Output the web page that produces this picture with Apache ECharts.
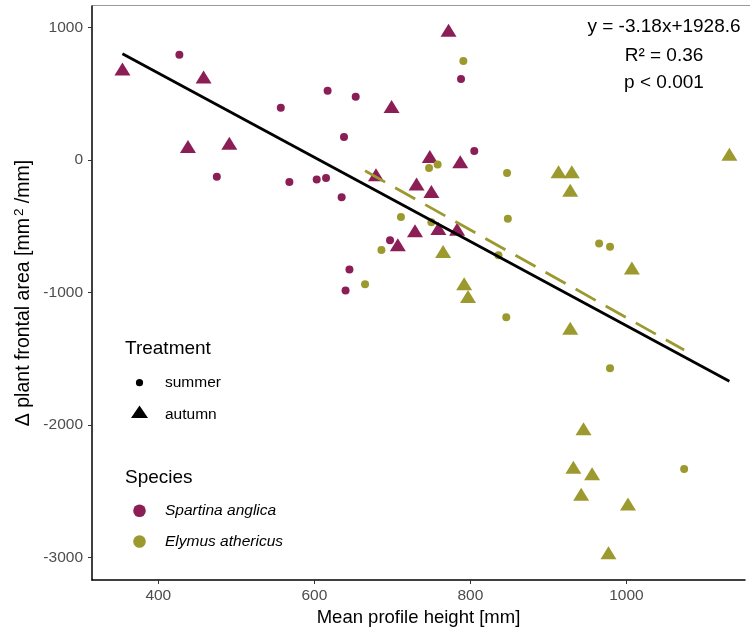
<!DOCTYPE html>
<html>
<head>
<meta charset="utf-8">
<script src="https://cdn.jsdelivr.net/npm/echarts@6/dist/echarts.min.js"></script>
<style>
html,body{margin:0;padding:0;background:#fff;}
#chart{width:750px;height:633px;}
</style>
</head>
<body>
<div id="chart"></div>
<script>
// Data: [mean profile height (mm), delta plant frontal area (mm2/mm)]
var spartinaSummer = [[427,796],[475,-126],[557,395],[617,524],[653,478],[638,174],[568,-166],[603,-147],[615,-136],[635,-280],[697,-605],[645,-827],[640,-985],[788,612],[805,68]];
var spartinaAutumn = [[354,688],[458,627],[438,103],[491,128],[699,405],[679,-111],[731,-180],[729,-533],[707,-640],[772,980],[748,27],[787,-13],[750,-237],[759,-517],[783,-522]];
var elymusSummer = [[711,-429],[686,-680],[665,-937],[791,748],[747,-60],[758,-33],[847,-98],[848,-444],[750,-469],[836,-718],[965,-630],[979,-655],[846,-1187],[979,-1572],[1074,-2333]];
var elymusAutumn = [[913,-88],[930,-88],[928,-227],[1132,45],[765,-691],[1007,-816],[792,-935],[797,-1031],[928,-1270],[945,-2029],[932,-2320],[956,-2369],[942,-2524],[1002,-2598],[977,-2966]];

// Fits: slope, intercept, x-range
var overallFit = {slope: -3.18, intercept: 1928.6, from: 354, to: 1132};
var elymusFit = {slope: -3.31, intercept: 2120, from: 665, to: 1074};

var xTicks = [400, 600, 800, 1000];
var yTicks = [-3000, -2000, -1000, 0, 1000];
var annotationLines = ['y = -3.18x+1928.6', 'R\u00b2 = 0.36', 'p < 0.001'];

var colSpartina = '#8C1E56';
var colElymus = '#9C992E';
var FONT = '"Liberation Sans", Arial, sans-serif';

function fitLine(f) {
  return [[f.from, f.slope * f.from + f.intercept], [f.to, f.slope * f.to + f.intercept]];
}
function plain(v) { return String(v); }

var chart = echarts.init(document.getElementById('chart'), null, {renderer: 'canvas'});

var circleSize = 8;
var triSize = [16, 13];

var option = {
  animation: false,
  backgroundColor: '#fff',
  grid: {left: 92, right: 5, top: 6, bottom: 53, containLabel: false},
  xAxis: {
    type: 'value', min: 315, max: 1152,
    name: 'Mean profile height [mm]', nameLocation: 'middle', nameGap: 28,
    nameTextStyle: {fontFamily: FONT, fontSize: 18.5, color: '#000'},
    axisLine: {show: true, onZero: false, lineStyle: {color: '#000', width: 1.5}},
    axisTick: {show: true, length: 4, lineStyle: {color: '#333', width: 1}, customValues: xTicks},
    axisLabel: {fontFamily: FONT, fontSize: 15.5, color: '#4D4D4D', margin: 8, customValues: xTicks, formatter: plain},
    splitLine: {show: false}
  },
  yAxis: {
    type: 'value', min: -3172, max: 1164,
    name: '{a|\u0394 plant frontal area [mm}{s|2}{a| /mm]}', nameLocation: 'middle', nameGap: 56, nameRotate: 90,
    nameMoveOverlap: false,
    nameTextStyle: {
      fontFamily: FONT, fontSize: 19.5, color: '#000',
      rich: {
        a: {fontFamily: FONT, fontSize: 19.5, color: '#000'},
        s: {fontFamily: FONT, fontSize: 13.5, color: '#000', verticalAlign: 'top', padding: [0, 0, 10, 2]}
      }
    },
    axisLine: {show: true, onZero: false, lineStyle: {color: '#000', width: 1.5}},
    axisTick: {show: true, length: 4, lineStyle: {color: '#333', width: 1}, customValues: yTicks},
    axisLabel: {fontFamily: FONT, fontSize: 15.5, color: '#4D4D4D', margin: 9, customValues: yTicks, formatter: plain},
    splitLine: {show: false}
  },
  series: [
    {name: 'Spartina anglica summer', type: 'scatter', data: spartinaSummer, symbol: 'circle', symbolSize: circleSize, itemStyle: {color: colSpartina, opacity: 1}, z: 3},
    {name: 'Spartina anglica autumn', type: 'scatter', data: spartinaAutumn, symbol: 'triangle', symbolSize: triSize, itemStyle: {color: colSpartina, opacity: 1}, z: 3},
    {name: 'Elymus athericus summer', type: 'scatter', data: elymusSummer, symbol: 'circle', symbolSize: circleSize, itemStyle: {color: colElymus, opacity: 1}, z: 3},
    {name: 'Elymus athericus autumn', type: 'scatter', data: elymusAutumn, symbol: 'triangle', symbolSize: triSize, itemStyle: {color: colElymus, opacity: 1}, z: 3},
    {name: 'Overall fit', type: 'line', data: fitLine(overallFit), showSymbol: false, symbol: 'none',
      lineStyle: {color: '#000', width: 2.8}, z: 4},
    {name: 'Elymus fit', type: 'line', data: fitLine(elymusFit), showSymbol: false, symbol: 'none',
      lineStyle: {color: colElymus, width: 2.8, type: [23, 11.5]}, z: 4}
  ],
  graphic: [
    {type: 'line', shape: {x1: 92, y1: 5.5, x2: 750, y2: 5.5}, style: {stroke: '#999', lineWidth: 1}},
    {type: 'text', x: 664, y: 27, style: {text: annotationLines[0], font: '19px ' + FONT, fill: '#000', textAlign: 'center', textVerticalAlign: 'middle'}},
    {type: 'text', x: 664, y: 56, style: {text: annotationLines[1], font: '19px ' + FONT, fill: '#000', textAlign: 'center', textVerticalAlign: 'middle'}},
    {type: 'text', x: 664, y: 83, style: {text: annotationLines[2], font: '19px ' + FONT, fill: '#000', textAlign: 'center', textVerticalAlign: 'middle'}},
    // Legend: Treatment
    {type: 'text', x: 125, y: 349, style: {text: 'Treatment', font: '19px ' + FONT, fill: '#000', textVerticalAlign: 'middle'}},
    {type: 'circle', shape: {cx: 139.5, cy: 382.7, r: 3.6}, style: {fill: '#000'}},
    {type: 'text', x: 165, y: 383, style: {text: 'summer', font: '15.5px ' + FONT, fill: '#000', textVerticalAlign: 'middle'}},
    {type: 'polygon', shape: {points: [[139.5, 405.5], [131, 418], [148, 418]]}, style: {fill: '#000'}},
    {type: 'text', x: 165, y: 414.5, style: {text: 'autumn', font: '15.5px ' + FONT, fill: '#000', textVerticalAlign: 'middle'}},
    // Legend: Species
    {type: 'text', x: 125, y: 478, style: {text: 'Species', font: '19px ' + FONT, fill: '#000', textVerticalAlign: 'middle'}},
    {type: 'circle', shape: {cx: 139.5, cy: 510.7, r: 6.3}, style: {fill: colSpartina}},
    {type: 'text', x: 165, y: 511, style: {text: 'Spartina anglica', font: 'italic 15.5px ' + FONT, fill: '#000', textVerticalAlign: 'middle'}},
    {type: 'circle', shape: {cx: 139.5, cy: 541.5, r: 6.3}, style: {fill: colElymus}},
    {type: 'text', x: 165, y: 541.5, style: {text: 'Elymus athericus', font: 'italic 15.5px ' + FONT, fill: '#000', textVerticalAlign: 'middle'}}
  ]
};
chart.setOption(option);
</script>
</body>
</html>
